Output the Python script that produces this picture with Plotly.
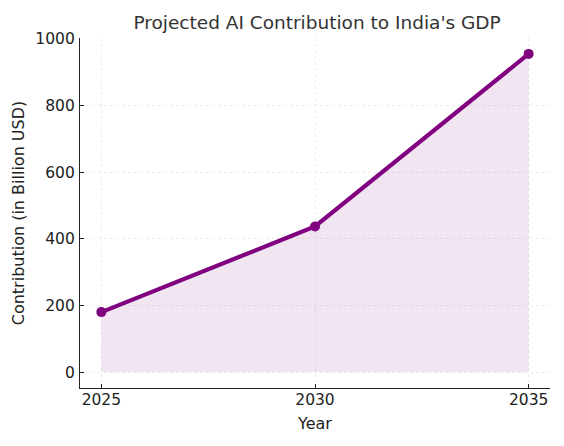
import plotly.graph_objects as go

years = [2025, 2030, 2035]
contribution = [180, 437, 955]
y_ticks = [0, 200, 400, 600, 800, 1000]
x_ticks = [2025, 2030, 2035]

purple = "#800080"
font_family = "DejaVu Sans"

fig = go.Figure()
fig.add_trace(go.Scatter(
    x=years, y=contribution, mode="lines", fill="tozeroy",
    fillcolor="rgba(128,0,128,0.1)",
    line=dict(color="rgba(128,0,128,0.12)", width=1),
    hoverinfo="skip", showlegend=False,
))
fig.add_trace(go.Scatter(
    x=years, y=contribution, mode="lines+markers",
    line=dict(color=purple, width=4.2),
    marker=dict(color=purple, size=10),
    showlegend=False,
))

axis_common = dict(
    showline=True, linecolor="#222", linewidth=1.3,
    ticks="inside", ticklen=4, tickcolor="#222", tickwidth=1,
    showgrid=True, gridcolor="#ececec", griddash="3px,3px", gridwidth=1,
    zeroline=False, mirror=False, automargin=False,
    tickfont=dict(family=font_family, size=15.5, color="#222"),
)

fig.update_layout(
    width=556, height=438,
    margin=dict(l=72, r=14, t=30, b=58),
    paper_bgcolor="white", plot_bgcolor="white",
    font=dict(family=font_family, color="#333"),
    title=dict(text="Projected AI Contribution to India's GDP",
               x=0.556, xanchor="center", y=0.982, yanchor="top",
               font=dict(family=font_family, size=18.5, color="#333")),
    xaxis=dict(range=[2024.5, 2035.5], tickvals=x_ticks, ticklabelstandoff=-3,
               title=dict(text="Year", font=dict(family=font_family, size=16, color="#222"), standoff=10),
               **axis_common),
    yaxis=dict(range=[-47.75, 1002.75], tickvals=y_ticks, ticklabelstandoff=1,
               title=dict(text="Contribution (in Billion USD)", font=dict(family=font_family, size=16, color="#222"), standoff=6),
               **axis_common),
)

fig.write_html("out.html")
